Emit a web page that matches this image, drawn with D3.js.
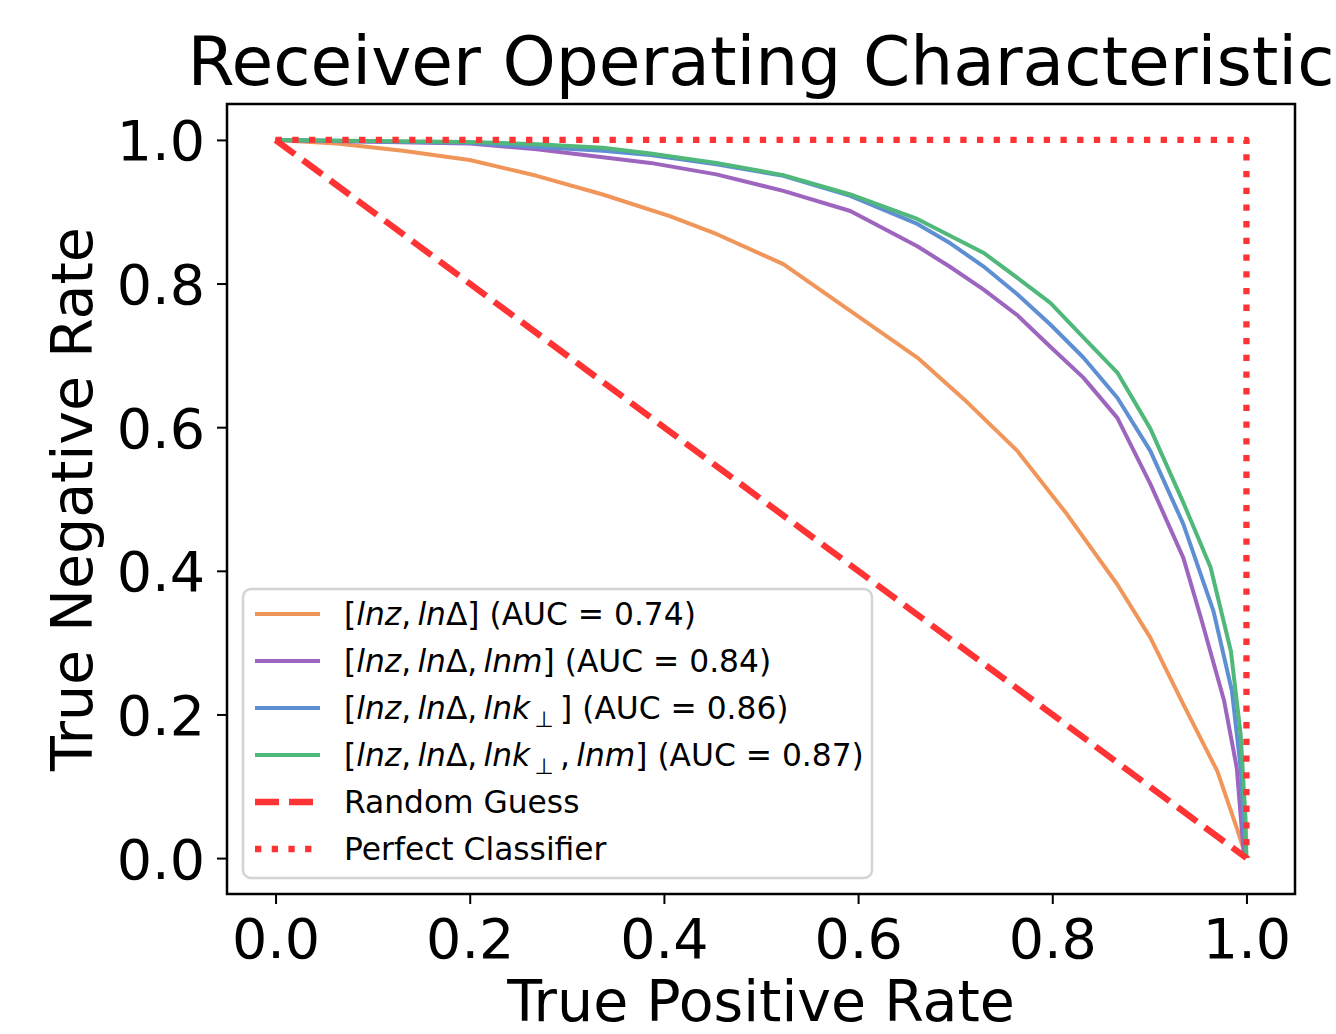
<!DOCTYPE html>
<html>
<head>
<meta charset="utf-8">
<script src="https://cdn.jsdelivr.net/npm/d3@7"></script>
<style>
  body { margin: 0; background: #fff; }
  svg { font-family: "DejaVu Sans", sans-serif; display: block; }
</style>
</head>
<body>
<svg id="canvas"></svg>
<script>
// ROC curves
const orangeX = [0, 0.063, 0.131, 0.2, 0.269, 0.337, 0.406, 0.454, 0.523, 0.592, 0.661, 0.709, 0.764, 0.815, 0.867, 0.901, 0.935, 0.970, 0.990, 1];
const orangeY = [1, 0.995, 0.985, 0.972, 0.950, 0.924, 0.894, 0.869, 0.827, 0.762, 0.697, 0.639, 0.567, 0.479, 0.381, 0.307, 0.214, 0.121, 0.042, 0];

const purpleX = [0, 0.2, 0.269, 0.337, 0.386, 0.454, 0.523, 0.592, 0.661, 0.695, 0.729, 0.764, 0.798, 0.832, 0.867, 0.901, 0.935, 0.953, 0.977, 0.990, 0.997, 1];
const purpleY = [1, 0.995, 0.987, 0.976, 0.968, 0.952, 0.929, 0.901, 0.852, 0.823, 0.792, 0.756, 0.712, 0.669, 0.613, 0.521, 0.418, 0.335, 0.219, 0.126, 0.010, 0];

const blueX = [0, 0.2, 0.269, 0.337, 0.386, 0.454, 0.523, 0.592, 0.661, 0.695, 0.729, 0.764, 0.798, 0.832, 0.867, 0.901, 0.935, 0.966, 0.985, 0.994, 0.999, 1];
const blueY = [1, 0.996, 0.990, 0.985, 0.979, 0.966, 0.950, 0.922, 0.883, 0.856, 0.824, 0.785, 0.743, 0.697, 0.641, 0.567, 0.465, 0.344, 0.233, 0.126, 0.010, 0];

const greenX = [0, 0.2, 0.269, 0.337, 0.386, 0.454, 0.523, 0.592, 0.661, 0.729, 0.764, 0.798, 0.832, 0.867, 0.901, 0.935, 0.963, 0.984, 0.994, 0.999, 1];
const greenY = [1, 0.997, 0.994, 0.989, 0.981, 0.968, 0.951, 0.924, 0.890, 0.843, 0.808, 0.773, 0.725, 0.676, 0.598, 0.495, 0.405, 0.288, 0.172, 0.056, 0];

const guessX = [0, 1];
const guessY = [1, 0];
const perfectX = [0, 1, 1];
const perfectY = [1, 1, 0];

const xTicks = [0, 0.2, 0.4, 0.6, 0.8, 1.0];
const yTicks = [0, 0.2, 0.4, 0.6, 0.8, 1.0];

const width = 1336;
const height = 1034;
const plot = { left: 227, right: 1295, top: 104, bottom: 894 };

let canvas = d3.select("#canvas").attr("width", width).attr("height", height);

let xScale = d3.scaleLinear().domain([-0.05, 1.05]).range([plot.left, plot.right]);
let yScale = d3.scaleLinear().domain([-0.05, 1.05]).range([plot.bottom, plot.top]);

let line = d3.line()
  .x((d) => xScale(d[0]))
  .y((d) => yScale(d[1]));

let pairs = (xs, ys) => xs.map((x, i) => [x, ys[i]]);

const series = [
  { xs: orangeX, ys: orangeY, color: "#f0965a", width: 4, dash: null },
  { xs: purpleX, ys: purpleY, color: "#9e65bf", width: 4, dash: null },
  { xs: blueX, ys: blueY, color: "#5f8fd3", width: 4, dash: null },
  { xs: greenX, ys: greenY, color: "#4fb87a", width: 4, dash: null },
  { xs: guessX, ys: guessY, color: "#ff3333", width: 6.3, dash: "24,10" },
  { xs: perfectX, ys: perfectY, color: "#ff3333", width: 6.3, dash: "6.3,10.4" }
];

// lines
canvas.selectAll("path.curve")
  .data(series)
  .enter()
  .append("path")
  .attr("class", "curve")
  .attr("d", (s) => line(pairs(s.xs, s.ys)))
  .attr("fill", "none")
  .attr("stroke", (s) => s.color)
  .attr("stroke-width", (s) => s.width)
  .attr("stroke-dasharray", (s) => s.dash)
  .attr("stroke-linejoin", "round");

// axes
let xAxis = d3.axisBottom(xScale).tickValues(xTicks).tickFormat(d3.format(".1f")).tickSize(10).tickSizeOuter(0);
let yAxis = d3.axisLeft(yScale).tickValues(yTicks).tickFormat(d3.format(".1f")).tickSize(10).tickSizeOuter(0);

let gx = canvas.append("g").attr("transform", "translate(0," + plot.bottom + ")").call(xAxis);
let gy = canvas.append("g").attr("transform", "translate(" + plot.left + ",0)").call(yAxis);

[gx, gy].forEach((g) => {
  g.select(".domain").remove();
  g.selectAll(".tick line").attr("stroke", "#000").attr("stroke-width", 2);
  g.selectAll(".tick text")
    .attr("fill", "#000")
    .style("font-family", "DejaVu Sans")
    .style("font-size", "55.5px");
});
gx.selectAll(".tick text").attr("dy", null).attr("y", 64);
gy.selectAll(".tick text").attr("x", -22).attr("dy", "0.36em");

// frame
canvas.append("rect")
  .attr("x", plot.left)
  .attr("y", plot.top)
  .attr("width", plot.right - plot.left)
  .attr("height", plot.bottom - plot.top)
  .attr("fill", "none")
  .attr("stroke", "#000")
  .attr("stroke-width", 2.5);

// titles
canvas.append("text")
  .attr("x", (plot.left + plot.right) / 2)
  .attr("y", 85)
  .attr("text-anchor", "middle")
  .style("font-size", "67.8px")
  .text("Receiver Operating Characteristic");

canvas.append("text")
  .attr("x", (plot.left + plot.right) / 2)
  .attr("y", 1021)
  .attr("text-anchor", "middle")
  .style("font-size", "57px")
  .text("True Positive Rate");

canvas.append("text")
  .attr("transform", "translate(92," + (plot.top + plot.bottom) / 2 + ") rotate(-90)")
  .attr("text-anchor", "middle")
  .style("font-size", "57px")
  .text("True Negative Rate");

// legend
const legendLabels = [
  [["[", 0], ["lnz", 1], [",\u2009", 0], ["ln", 1], ["Δ", 0], ["] (AUC = 0.74)", 0]],
  [["[", 0], ["lnz", 1], [",\u2009", 0], ["ln", 1], ["Δ", 0], [",\u2009", 0], ["lnm", 1], ["] (AUC = 0.84)", 0]],
  [["[", 0], ["lnz", 1], [",\u2009", 0], ["ln", 1], ["Δ", 0], [",\u2009", 0], ["lnk", 1], ["\u2009⊥", 2], ["\u2009] (AUC = 0.86)", 3]],
  [["[", 0], ["lnz", 1], [",\u2009", 0], ["ln", 1], ["Δ", 0], [",\u2009", 0], ["lnk", 1], ["\u2009⊥", 2], ["\u2009,\u2009", 3], ["lnm", 1], ["] (AUC = 0.87)", 0]],
  [["Random Guess", 0]],
  [["Perfect Classifier", 0]]
];

let legend = canvas.append("g");
legend.append("rect")
  .attr("x", 243)
  .attr("y", 589)
  .attr("width", 629)
  .attr("height", 289)
  .attr("rx", 8)
  .attr("fill", "#fff")
  .attr("fill-opacity", 0.8)
  .attr("stroke", "#d4d4d4")
  .attr("stroke-width", 2.5);

let rows = legend.selectAll("g.row")
  .data(series)
  .enter()
  .append("g")
  .attr("class", "row")
  .attr("transform", (s, i) => "translate(0," + (614 + i * 47) + ")");

rows.append("line")
  .attr("x1", 255)
  .attr("x2", 320)
  .attr("stroke", (s) => s.color)
  .attr("stroke-width", (s) => s.width)
  .attr("stroke-dasharray", (s) => s.dash);

// part kinds: 0 plain, 1 italic, 2 subscript, 3 plain back on baseline
rows.append("text")
  .attr("x", 344)
  .attr("y", 11)
  .style("font-size", "31.3px")
  .each(function (s, i) {
    let t = d3.select(this);
    legendLabels[i].forEach((part) => {
      let span = t.append("tspan").text(part[0]);
      if (part[1] === 1) span.style("font-style", "italic");
      if (part[1] === 2) span.attr("dy", 8).style("font-size", "22px");
      if (part[1] === 3) span.attr("dy", -8);
    });
  });
</script>
</body>
</html>
